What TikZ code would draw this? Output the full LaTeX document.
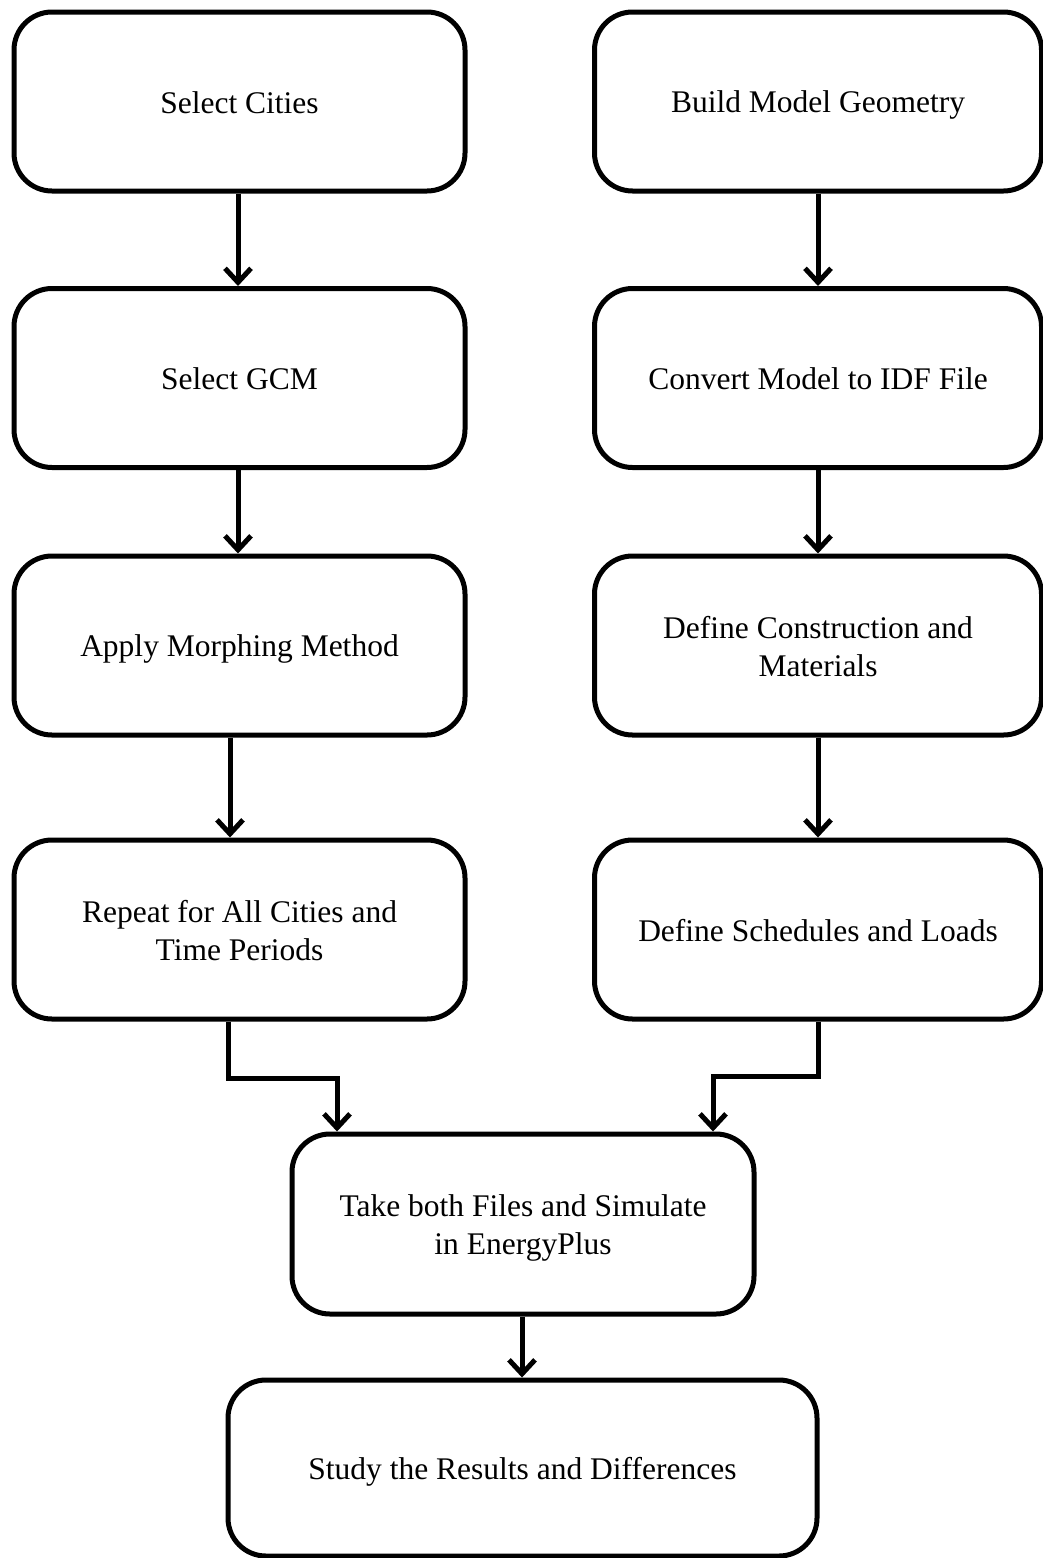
\documentclass[tikz,border=0pt]{standalone}
\usepackage{fontspec}
\setmainfont{Liberation Serif}
\usetikzlibrary{arrows.meta}
\newcommand{\bs}{\rule[-6pt]{0pt}{35pt}}
\begin{document}
\begin{tikzpicture}[x=1pt,y=-1pt,
  box/.style={draw=black, line width=5pt, rounded corners=38pt, align=center,
    font=\fontsize{31.5}{38}\selectfont, inner sep=0pt},
  conn/.style={line width=5pt, -{Straight Barb[length=14pt,width=26pt,line width=5pt]}}]
\useasboundingbox (0,0) rectangle (1043,1558);
\fill[white] (0,0) rectangle (1043,1558);
% left column
\node[box, minimum width=451pt, minimum height=179pt] (l1) at (239.5,101.5) {\bs Select Cities\bs};
\node[box, minimum width=451pt, minimum height=179pt] (l2) at (239.5,378) {\bs Select GCM\bs};
\node[box, minimum width=451pt, minimum height=179pt] (l3) at (239.5,645.5) {\bs Apply Morphing Method\bs};
\node[box, minimum width=451pt, minimum height=179pt] (l4) at (239.5,929.5) {\bs Repeat for All Cities and\bs\\\bs Time Periods\bs};
% right column
\node[box, minimum width=447pt, minimum height=179pt] (r1) at (818,101.5) {\bs Build Model Geometry\bs};
\node[box, minimum width=447pt, minimum height=179pt] (r2) at (818,378) {\bs Convert Model to IDF File\bs};
\node[box, minimum width=447pt, minimum height=179pt] (r3) at (818,645.5) {\bs Define Construction and\bs\\\bs Materials\bs};
\node[box, minimum width=447pt, minimum height=179pt] (r4) at (818,929.5) {\bs Define Schedules and Loads\bs};
% center
\node[box, minimum width=462pt, minimum height=180pt] (c) at (523,1224) {\bs Take both Files and Simulate\bs\\\bs in EnergyPlus\bs};
\node[box, minimum width=589pt, minimum height=176pt] (b) at (522.5,1468) {\bs Study the Results and Differences\bs};
% connectors
\draw[conn] (l1.south -| 238,0) -- (l2.north -| 238,0);
\draw[conn] (l2.south -| 238,0) -- (l3.north -| 238,0);
\draw[conn] (l3.south -| 230,0) -- (l4.north -| 230,0);
\draw[conn] (r1.south) -- (r2.north);
\draw[conn] (r2.south) -- (r3.north);
\draw[conn] (r3.south) -- (r4.north);
\coordinate (lj1) at (228,1078);
\coordinate (lj2) at (337,1078);
\coordinate (rj1) at (818,1076);
\coordinate (rj2) at (713,1076);
\draw[conn] (l4.south -| lj1) -- (lj1) -- (lj2) -- (c.north -| lj2);
\draw[conn] (r4.south -| rj1) -- (rj1) -- (rj2) -- (c.north -| rj2);
\draw[conn] (c.south -| 522,0) -- (b.north -| 522,0);
\end{tikzpicture}
\end{document}
